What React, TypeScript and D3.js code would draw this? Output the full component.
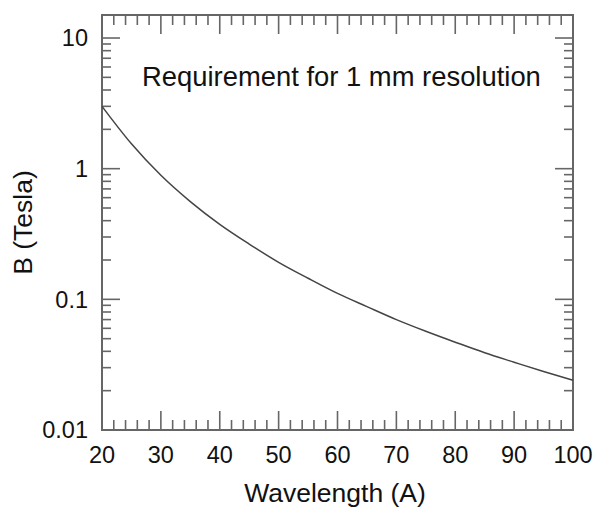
import React from "react";
import * as d3 from "d3";

const wavelengths = [20, 25, 30, 35, 40, 45, 50, 55, 60, 65, 70, 75, 80, 85, 90, 95, 100];
const fieldTesla = [3.0, 1.55, 0.89, 0.56, 0.375, 0.265, 0.192, 0.145, 0.111, 0.088, 0.07, 0.057, 0.047, 0.039, 0.033, 0.028, 0.024];
const xTickLabels = [20, 30, 40, 50, 60, 70, 80, 90, 100];
const yTickLabels = [0.01, 0.1, 1, 10];
const yTickText = ["0.01", "0.1", "1", "10"];
const title = "Requirement for 1 mm resolution";
const xTitle = "Wavelength (A)";
const yTitle = "B (Tesla)";

const W = 595, H = 508;
const L = 102, R = 573, T = 15, B = 430;
const FONT = "'Liberation Sans', Arial, Helvetica, sans-serif";
const AX = "#666";

export default function App() {
  const x = d3.scaleLinear().domain([20, 100]).range([L, R]);
  const y = d3.scaleLog().domain([0.01, 15]).range([B, T]);

  const xMinor = d3.range(20, 100.001, 2).filter((v) => Math.abs(v % 10) > 1e-6);
  const yMinor: number[] = [];
  [0.01, 0.1, 1, 10].forEach((d) => {
    for (let k = 2; k <= 9; k++) {
      const v = d * k;
      if (v <= 15) yMinor.push(v);
    }
  });

  const line = d3
    .line<number>()
    .x((_, i) => x(wavelengths[i]))
    .y((d) => y(d))
    .curve(d3.curveMonotoneX);

  const MAJ = 19, MIN = 10;
  const ticks: { x1: number; y1: number; x2: number; y2: number }[] = [];
  xTickLabels.forEach((v) => {
    ticks.push({ x1: x(v), y1: B, x2: x(v), y2: B - MAJ });
    ticks.push({ x1: x(v), y1: T, x2: x(v), y2: T + MAJ });
  });
  xMinor.forEach((v) => {
    ticks.push({ x1: x(v), y1: B, x2: x(v), y2: B - MIN });
    ticks.push({ x1: x(v), y1: T, x2: x(v), y2: T + MIN });
  });
  yTickLabels.forEach((v) => {
    ticks.push({ x1: L, y1: y(v), x2: L + 18, y2: y(v) });
    ticks.push({ x1: R, y1: y(v), x2: R - 18, y2: y(v) });
  });
  yMinor.forEach((v) => {
    ticks.push({ x1: L, y1: y(v), x2: L + 9, y2: y(v) });
    ticks.push({ x1: R, y1: y(v), x2: R - 9, y2: y(v) });
  });

  return (
    <svg width={W} height={H} style={{ position: "absolute", left: 0, top: 0 }}>
      <rect x={0} y={0} width={W} height={H} fill="#fff" />
      {ticks.map((t, i) => (
        <line key={i} x1={t.x1} y1={t.y1} x2={t.x2} y2={t.y2} stroke={AX} strokeWidth={1.6} />
      ))}
      <rect x={L} y={T} width={R - L} height={B - T} stroke={AX} strokeWidth={2} fill="none" />
      <path d={line(fieldTesla) || ""} fill="none" stroke="#444" strokeWidth={1.5} />
      <g fontFamily={FONT} fontSize={23.5} fill="#111">
        {xTickLabels.map((v) => (
          <text key={"xl" + v} x={x(v)} y={463} textAnchor="middle">
            {v}
          </text>
        ))}
        {yTickLabels.map((v, i) => (
          <text key={"yl" + v} x={88} y={y(v)} dy="0.36em" textAnchor="end">
            {yTickText[i]}
          </text>
        ))}
      </g>
      <text x={142} y={86} fontFamily={FONT} fontSize={27.4} fill="#111">
        {title}
      </text>
      <text x={335} y={502} fontFamily={FONT} fontSize={26.5} fill="#111" textAnchor="middle">
        {xTitle}
      </text>
      <text
        transform={`translate(32, ${(T + B) / 2}) rotate(-90)`}
        fontFamily={FONT}
        fontSize={26.5}
        fill="#111"
        textAnchor="middle"
      >
        {yTitle}
      </text>
    </svg>
  );
}
